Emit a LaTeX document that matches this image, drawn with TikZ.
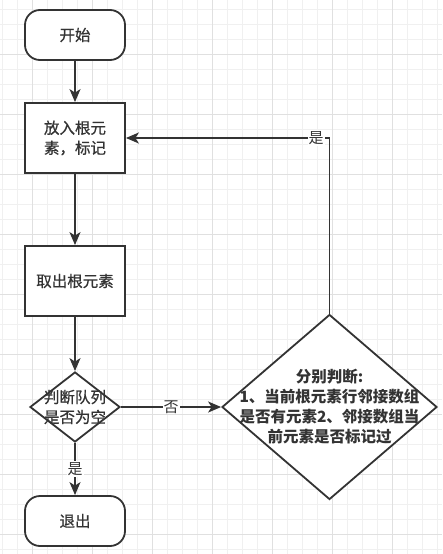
\documentclass[tikz,border=0pt]{standalone}
\usepackage{fontspec}
\setmainfont{Noto Sans CJK SC}
\newfontfamily\cjkmed[FakeBold=0.8]{Noto Sans CJK SC}
\usetikzlibrary{shapes.geometric,arrows.meta}
\definecolor{ink}{HTML}{333333}
\definecolor{gridminor}{HTML}{F0F0F0}
\definecolor{gridmajor}{HTML}{E0E0E0}
\begin{document}
\begin{tikzpicture}[x=1pt,y=-1pt,
  base/.style={draw=ink, line width=1.8pt, fill=white, inner sep=0pt, text=ink},
  term/.style={base, rectangle, rounded corners=15pt, minimum width=100pt, minimum height=50pt},
  proc/.style={base, rectangle, minimum width=100pt, minimum height=70pt},
  deci/.style={base, diamond},
  txt/.style={align=center, text=ink, inner sep=0pt, font=\fontsize{15.5}{20}\cjkmed},
  conn/.style={draw=ink, line width=1.8pt, -{Stealth[length=13pt,width=11pt,inset=3.5pt]}},
  lbl/.style={fill=white, inner sep=1pt, text=ink, font=\fontsize{15}{17}\selectfont}
]
\useasboundingbox (0,0) rectangle (442,554);
\fill[white] (0,0) rectangle (442,554);
\foreach \k in {0,...,29} {\draw[gridminor, line width=1pt] ({2.3+15*\k},0) -- ({2.3+15*\k},554);}
\foreach \k in {0,...,36} {\draw[gridminor, line width=1pt] (0,{9.3+15*\k}) -- (442,{9.3+15*\k});}
\foreach \k in {0,...,6} {\draw[gridmajor, line width=1pt] ({32.3+60*\k},0) -- ({32.3+60*\k},554);}
\foreach \k in {0,...,8} {\draw[gridmajor, line width=1pt] (0,{54.3+60*\k}) -- (442,{54.3+60*\k});}

\node[term] (start) at (75,35) {};
\node[txt] (startt) at (start.center) {开始};
\node[proc] (box1) at (75,138) {};
\node[txt] (box1t) at (box1.center) {放入根元\\素，标记};
\node[proc] (box2) at (75,281) {};
\node[txt] (box2t) at (box2.center) {取出根元素};
\node[deci, minimum width=90pt, minimum height=70pt] (d1) at (75,407) {};
\node[txt] (d1t) at (d1.center) {判断队列\\是否为空};
\node[term] (exit) at (75,521) {};
\node[txt] (exitt) at (exit.center) {退出};
\node[deci, minimum width=215pt, minimum height=185pt] (d2) at (329.5,407) {};
\node[txt, font=\fontsize{15.5}{20}\selectfont\bfseries] (d2t) at (d2.center) {分别判断:\\1、当前根元素行邻接数组\\是否有元素2、邻接数组当\\前元素是否标记过};

\draw[conn] (start) -- (box1);
\draw[conn] (box1) -- (box2);
\draw[conn] (box2) -- (d1);
\draw[conn] (d1) -- node[lbl] (yes1) {是} (exit);
\draw[conn] (d1) -- node[lbl] (no1) {否} (d2);
\draw[conn] (d2.north) |- node[lbl, pos=0.533] (yes2) {是} (box1.east);
\end{tikzpicture}
\end{document}
